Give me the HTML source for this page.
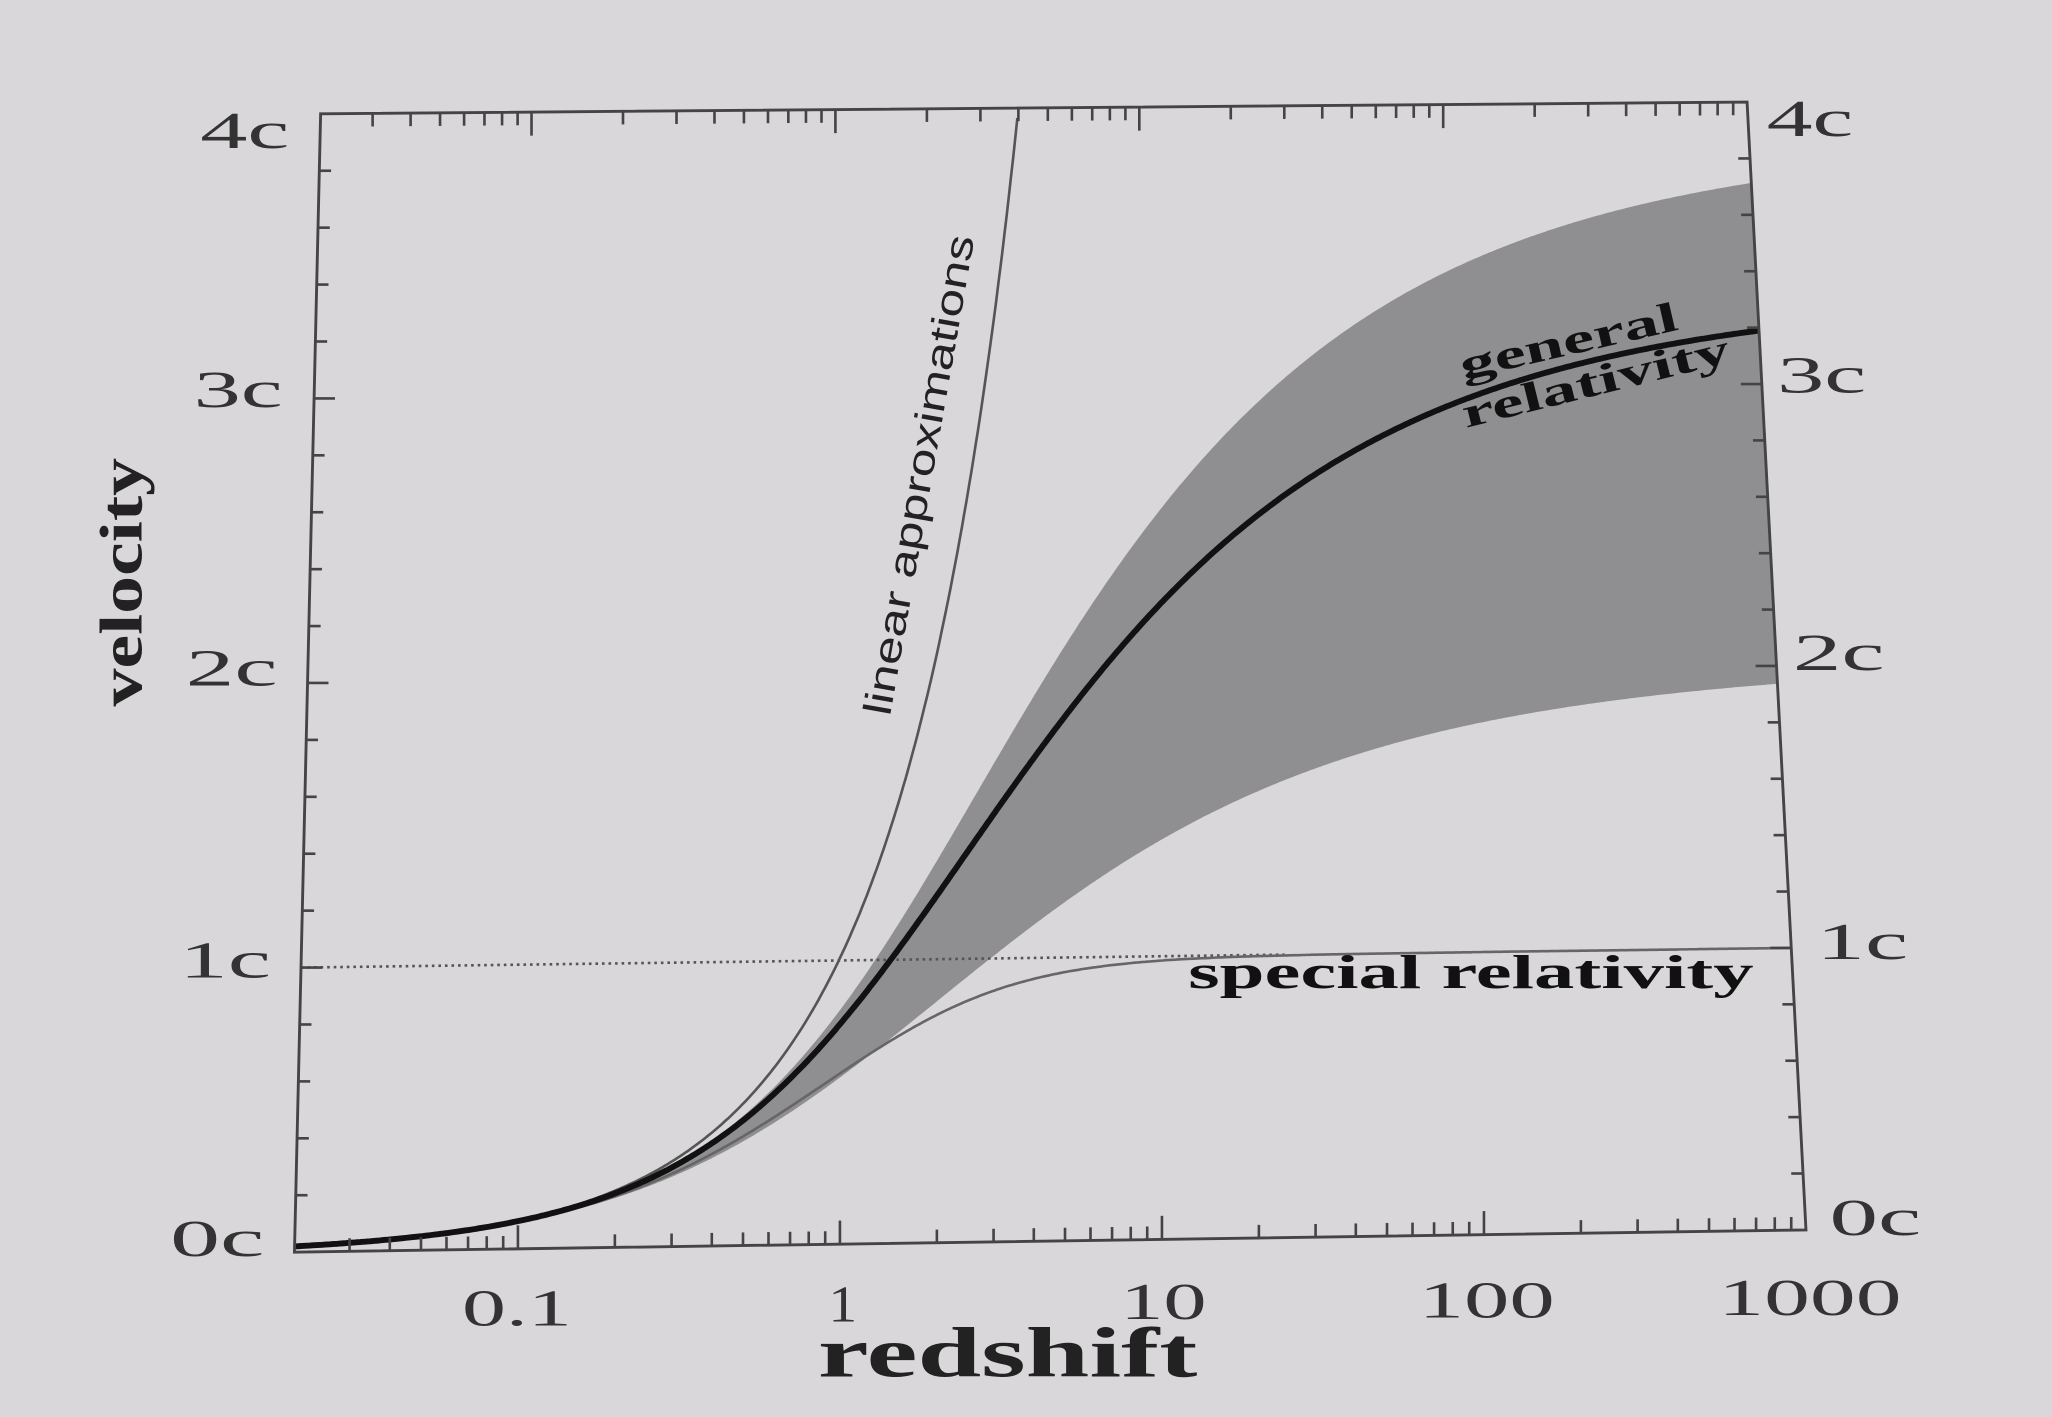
<!DOCTYPE html>
<html><head><meta charset="utf-8"><style>
html,body{margin:0;padding:0;background:#d9d7da;}
svg{display:block}
</style></head><body>
<svg id="s" width="2052" height="1417" viewBox="0 0 1568 1083" preserveAspectRatio="none" xmlns="http://www.w3.org/2000/svg">
<rect width="1568" height="1083" fill="#d9d7da"/>
<g id="g"></g>
<g font-family="'Liberation Serif', serif" fill="#333" font-size="40">
<text x="153" y="113" textLength="68" lengthAdjust="spacingAndGlyphs">4c</text>
<text x="148" y="311" textLength="68" lengthAdjust="spacingAndGlyphs">3c</text>
<text x="142" y="524" textLength="70" lengthAdjust="spacingAndGlyphs">2c</text>
<text x="137" y="747" textLength="70" lengthAdjust="spacingAndGlyphs">1c</text>
<text x="130" y="960" textLength="72" lengthAdjust="spacingAndGlyphs">0c</text>
<text x="1350" y="104" textLength="66" lengthAdjust="spacingAndGlyphs">4c</text>
<text x="1358" y="300" textLength="68" lengthAdjust="spacingAndGlyphs">3c</text>
<text x="1370" y="512" textLength="70" lengthAdjust="spacingAndGlyphs">2c</text>
<text x="1388" y="733" textLength="70" lengthAdjust="spacingAndGlyphs">1c</text>
<text x="1398" y="944" textLength="70" lengthAdjust="spacingAndGlyphs">0c</text>
<text x="353" y="1013" textLength="84" lengthAdjust="spacingAndGlyphs">0.1</text>
<text x="633" y="1010" textLength="22" lengthAdjust="spacingAndGlyphs">1</text>
<text x="856" y="1008" textLength="66" lengthAdjust="spacingAndGlyphs">10</text>
<text x="1084" y="1007" textLength="104" lengthAdjust="spacingAndGlyphs">100</text>
<text x="1313" y="1005" textLength="140" lengthAdjust="spacingAndGlyphs">1000</text>
</g>
<text x="625" y="1052" font-family="'Liberation Serif', serif" font-weight="bold" font-size="54" fill="#222" textLength="290" lengthAdjust="spacingAndGlyphs">redshift</text>
<text transform="translate(108,540) rotate(-90)" font-family="'Liberation Serif', serif" font-weight="bold" font-size="46" fill="#222" textLength="190" lengthAdjust="spacingAndGlyphs">velocity</text>
<text transform="translate(680,548) rotate(-80)" font-family="'Liberation Sans', sans-serif" font-size="30" fill="#222" textLength="372" lengthAdjust="spacingAndGlyphs">linear approximations</text>
<text transform="translate(1118,290) rotate(-13)" font-family="'Liberation Serif', serif" font-weight="bold" font-size="32" fill="#111" textLength="170" lengthAdjust="spacingAndGlyphs">general</text>
<text transform="translate(1120,327) rotate(-14)" font-family="'Liberation Serif', serif" font-weight="bold" font-size="32" fill="#111" textLength="210" lengthAdjust="spacingAndGlyphs">relativity</text>
<text x="908" y="755" font-family="'Liberation Serif', serif" font-weight="bold" font-size="36" fill="#111" textLength="432" lengthAdjust="spacingAndGlyphs">special relativity</text>
</svg>
<script>
var TL=[245,87],TR=[1335,78],BL=[225,957],BR=[1380,940];
function P(u,v){return [(1-u)*(1-v)*BL[0]+u*(1-v)*BR[0]+(1-u)*v*TL[0]+u*v*TR[0],
(1-u)*(1-v)*BL[1]+u*(1-v)*BR[1]+(1-u)*v*TL[1]+u*v*TR[1]];}
var L0=-1.694,L1=3;
function U(z){return (Math.log10(z)-L0)/(L1-L0);}
function pt(z,vel){var p=P(U(z),vel/4);return p[0].toFixed(1)+","+p[1].toFixed(1);}
var N=600,zs=[];for(var i=0;i<=N;i++)zs.push(Math.pow(10,L0+(L1-L0)*i/N));
function dist(om,ol){var out=[],acc=0,prev=0,M=200;for(var i=0;i<zs.length;i++){var z=zs[i],a=prev,b=z;for(var k=0;k<M;k++){var x0=a+(b-a)*k/M,x1=a+(b-a)*(k+1)/M,xm=(x0+x1)/2;acc+=(x1-x0)/Math.sqrt(om*Math.pow(1+xm,3)+ol);}out.push(acc);prev=z;}return out;}
var gr=dist(0.3,0.7),hi=dist(0.205,0.795),lo=dist(1,0);
var h='';
var d='M';for(var i=0;i<zs.length;i++)d+=pt(zs[i],hi[i])+' L';
for(var i=zs.length-1;i>=0;i--)d+=pt(zs[i],lo[i])+(i?' L':'');
h+='<path d="'+d+'Z" fill="#8f8e90"/>';
var p1=P(0,0.25),p2=P(0.66,0.25);
h+='<line x1="'+p1[0]+'" y1="'+p1[1]+'" x2="'+p2[0]+'" y2="'+p2[1]+'" stroke="#555" stroke-width="2" stroke-dasharray="2,3"/>';
d='M';for(var i=0;i<zs.length;i++){var z=zs[i],a=(1+z)*(1+z);d+=pt(z,(a-1)/(a+1))+(i<zs.length-1?' L':'');}
h+='<path d="'+d+'" fill="none" stroke="#666" stroke-width="2"/>';
d='M';for(var i=0;i<zs.length;i++){if(zs[i]>4)break;d+=(i?' L':'')+pt(zs[i],zs[i]);}
h+='<path d="'+d+'" fill="none" stroke="#555" stroke-width="2"/>';
d='M';for(var i=0;i<zs.length;i++)d+=pt(zs[i],gr[i])+(i<zs.length-1?' L':'');
h+='<path d="'+d+'" fill="none" stroke="#111" stroke-width="4.5"/>';
h+='<path d="M'+TL+' L'+TR+' L'+BR+' L'+BL+' Z" fill="none" stroke="#444" stroke-width="2.2"/>';
for(var k=1;k<20;k++){var v=k/20,len=(k%5==0)?16:9;var a=P(0,v),b=P(1,v);
h+='<line x1="'+a[0]+'" y1="'+a[1]+'" x2="'+(a[0]+len)+'" y2="'+a[1]+'" stroke="#444" stroke-width="2"/>';
h+='<line x1="'+b[0]+'" y1="'+b[1]+'" x2="'+(b[0]-len)+'" y2="'+b[1]+'" stroke="#444" stroke-width="2"/>';}
for(var e=-2;e<=3;e++)for(var m=1;m<10;m++){var z=m*Math.pow(10,e);var u=U(z);if(u<=0.001||u>=0.999)continue;var len=(m==1)?18:10;
var a=P(u,0),b=P(u,1);
h+='<line x1="'+a[0]+'" y1="'+a[1]+'" x2="'+a[0]+'" y2="'+(a[1]-len)+'" stroke="#444" stroke-width="2"/>';
h+='<line x1="'+b[0]+'" y1="'+b[1]+'" x2="'+b[0]+'" y2="'+(b[1]+len)+'" stroke="#444" stroke-width="2"/>';}
document.getElementById('g').innerHTML=h;
</script>
</body></html>
